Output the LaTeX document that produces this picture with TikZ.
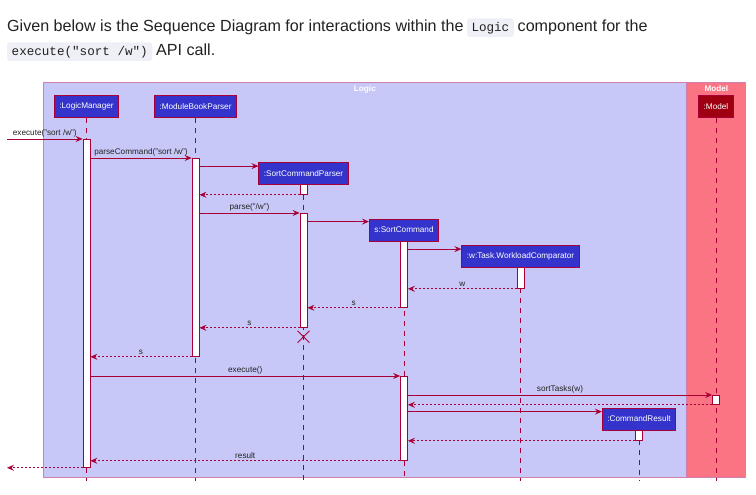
\documentclass[tikz,border=0pt]{standalone}
\usepackage{fontspec}
\setmainfont{Liberation Sans}
\setmonofont{Liberation Mono}
\usetikzlibrary{positioning,arrows.meta,shapes.misc}
\definecolor{seqInk}{HTML}{222222}
\definecolor{seqArrow}{HTML}{A80036}
\definecolor{logicWash}{HTML}{C8C8F8}
\definecolor{modelWash}{HTML}{FA7484}
\definecolor{frameEdge}{HTML}{D080AC}
\definecolor{partBlue}{HTML}{3434CC}
\definecolor{partRed}{HTML}{9E0012}
\definecolor{codeWash}{HTML}{EFEFF7}
\tikzset{
  hdr/.style        = {font=\fontsize{16.1}{20}\selectfont, text=seqInk, inner sep=0pt},
  codebox/.style    = {font=\ttfamily\fontsize{12.6}{15}\selectfont, fill=codeWash,
                       rounded corners=3pt, text=seqInk, inner xsep=4.5pt,
                       inner ysep=3.5pt, text height=10pt, text depth=1.5pt},
  framebox/.style   = {draw=frameEdge, line width=0.8pt, anchor=north west, inner sep=0pt},
  frametitle/.style = {font=\bfseries\fontsize{8.2}{10}\selectfont, text=white, inner sep=1pt},
  partbox/.style    = {draw=seqArrow, fill=partBlue, text=white, line width=0.8pt,
                       font=\fontsize{8.2}{10}\selectfont, minimum height=22pt,
                       inner xsep=5pt, inner ysep=0pt},
  act/.style        = {draw=seqArrow, fill=white, minimum width=7pt, inner sep=0pt,
                       anchor=north, line width=0.8pt},
  life/.style       = {draw=seqArrow, line width=0.8pt, dash pattern=on 5pt off 5pt},
  msg/.style        = {draw=seqArrow, line width=0.8pt,
                       -{Stealth[length=7pt,width=6pt,inset=2.5pt]}},
  ret/.style        = {msg, dash pattern=on 2pt off 2pt},
  lbl/.style        = {font=\fontsize{8.2}{10}\selectfont, text=seqInk, inner sep=1pt,
                       above=0.5pt},
}

\begin{document}
\begin{tikzpicture}[x=1pt, y=-1pt]
  \useasboundingbox[fill=white] (0,0) rectangle (756,495);

  % text above the diagram
  \node[hdr, anchor=base west] (intro) at (7,32)
    {Given below is the Sequence Diagram for interactions within the};
  \node[codebox, base right=3pt of intro] (logicCode) {Logic};
  \node[hdr, base right=3.5pt of logicCode] (introEnd) {component for the};
  \node[codebox, anchor=base west] (execCode) at (7,56) {execute("sort /w")};
  \node[hdr, base right=3.5pt of execCode] (apiCall) {API call.};

  % component frames
  \node[framebox, fill=logicWash, minimum width=643pt, minimum height=395pt] (logicF) at (43,82) {};
  \node[framebox, fill=modelWash, minimum width=58pt, minimum height=395pt] (modelF) at (687,82) {};
  \node[frametitle, below=2pt of logicF.north] (logicT) {Logic};
  \node[frametitle, below=2pt of modelF.north] (modelT) {Model};

  % participants
  \node[partbox] (lm)  at (86.5,106.5) {:LogicManager};
  \node[partbox] (mbp) at (195.5,106.5) {:ModuleBookParser};
  \node[partbox] (scp) at (303.5,173.5) {:SortCommandParser};
  \node[partbox] (sc)  at (404,230) {s:SortCommand};
  \node[partbox] (wc)  at (520.5,256.5) {:w:Task.WorkloadComparator};
  \node[partbox, fill=partRed] (model) at (716,106.5) {:Model};
  \node[partbox] (cr)  at (639,419) {:CommandResult};

  \coordinate (floor) at (0,481);
  \foreach \p in {lm,mbp,scp,sc,wc,model,cr}
    \draw[life] (\p.south) -- (\p.south |- floor);

  % activations
  \node[act, minimum height=328pt] (lmA)    at (86.5,139) {};
  \node[act, minimum height=198pt] (mbpA)   at (195.5,158) {};
  \node[act, minimum height=10pt]  (scpA)   at (303.5,184) {};
  \node[act, minimum height=114pt] (scpB)   at (303.5,213) {};
  \node[act, minimum height=66pt]  (scA)    at (404,241) {};
  \node[act, minimum height=21pt]  (wcA)    at (520.5,267) {};
  \node[act, minimum height=84pt]  (scB)    at (404,376) {};
  \node[act, minimum height=9pt]   (modelA) at (716,395) {};
  \node[act, minimum height=10pt]  (crA)    at (639,430) {};
  \node[cross out, draw=seqArrow, line width=0.9pt, minimum size=11pt, inner sep=0pt,
        below=3pt of scpB] (scpX) {};

  % free ends and create points
  \coordinate (inL)  at (7,139);
  \coordinate (outL) at (7,467);
  \coordinate (scpIn) at ([yshift=-4pt]scp.north west);
  \coordinate (scIn)  at ([yshift=-3pt]sc.north west);
  \coordinate (wcIn)  at ([yshift=-4pt]wc.north west);
  \coordinate (crIn)  at ([yshift=-4pt]cr.north west);

  % messages
  \draw[msg] (inL) -- (lmA.north west) node[lbl, midway] {execute("sort /w")};
  \draw[msg] (lmA.east |- mbpA.north) -- (mbpA.north west)
    node[lbl, midway] {parseCommand("sort /w")};
  \draw[msg] (mbpA.east |- scpIn) -- (scpIn);
  \draw[ret] (scpA.south west) -- (mbpA.east |- scpA.south);
  \draw[msg] (mbpA.east |- scpB.north) -- (scpB.north west) node[lbl, midway] {parse("/w")};
  \draw[msg] (scpB.east |- scIn) -- (scIn);
  \draw[msg] (scA.east |- wcIn) -- (wcIn);
  \draw[ret] (wcA.south west) -- (scA.east |- wcA.south) node[lbl, midway] {w};
  \draw[ret] (scA.south west) -- (scpB.east |- scA.south) node[lbl, midway] {s};
  \draw[ret] (scpB.south west) -- (mbpA.east |- scpB.south) node[lbl, midway] {s};
  \draw[ret] (mbpA.south west) -- (lmA.east |- mbpA.south) node[lbl, midway] {s};
  \draw[msg] (lmA.east |- scB.north) -- (scB.north west) node[lbl, midway] {execute()};
  \draw[msg] (scB.east |- modelA.north) -- (modelA.north west)
    node[lbl, midway] {sortTasks(w)};
  \draw[ret] (modelA.south west) -- (scB.east |- modelA.south);
  \draw[msg] (scB.east |- crIn) -- (crIn);
  \draw[ret] (crA.south west) -- (scB.east |- crA.south);
  \draw[ret] (scB.south west) -- (lmA.east |- scB.south) node[lbl, midway] {result};
  \draw[ret] (lmA.south west) -- (outL |- lmA.south);
\end{tikzpicture}
\end{document}
